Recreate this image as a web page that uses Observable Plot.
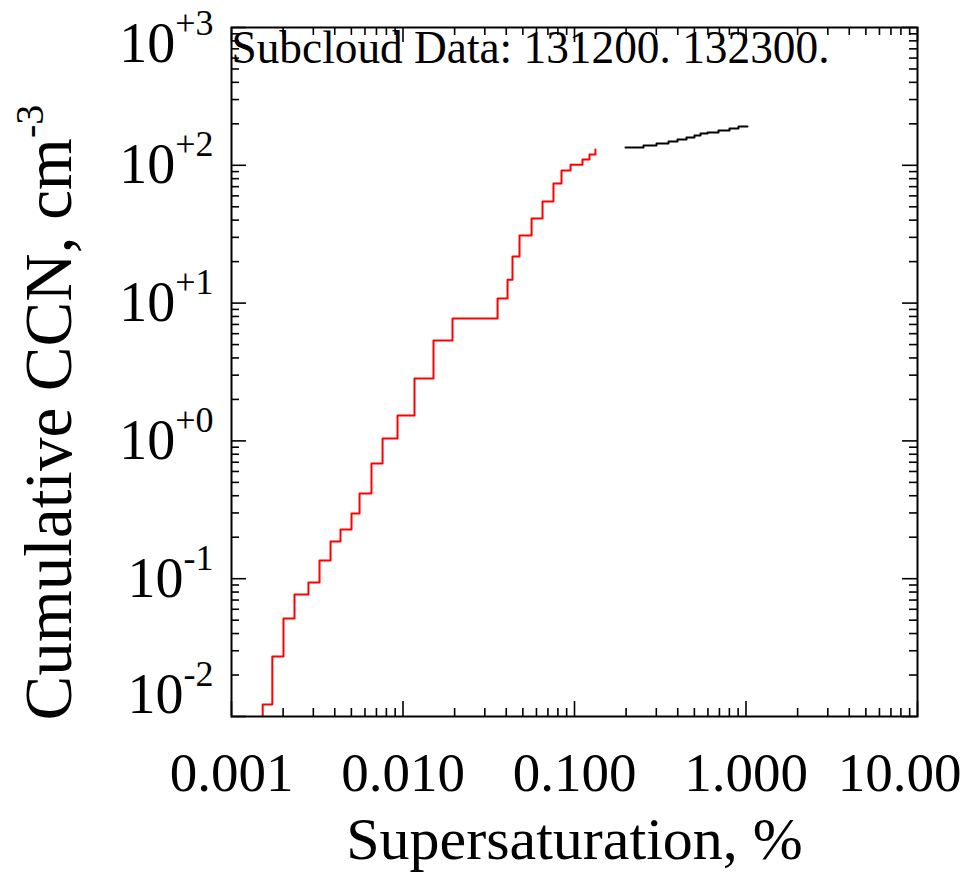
<!DOCTYPE html>
<html><head><meta charset="utf-8">
<script src="https://cdn.jsdelivr.net/npm/d3@7"></script>
<script src="https://cdn.jsdelivr.net/npm/@observablehq/plot@0.6"></script>
<style>html,body{margin:0;padding:0;background:#fff}svg{display:block}</style>
</head><body><div id="chart"></div>
<script>
// Red step series (supersaturation %, cumulative CCN cm^-3); step-after
const redX = [0.00152, 0.00152, 0.00173, 0.00201, 0.00233, 0.00281, 0.00326, 0.00378, 0.00432, 0.00501, 0.00558, 0.00655, 0.00760, 0.00929, 0.01167, 0.01506, 0.01944, 0.0356, 0.0407, 0.0435, 0.0478, 0.0562, 0.0651, 0.0754, 0.0840, 0.0948, 0.1113, 0.1223, 0.1325];
const redY = [0.01, 0.0122, 0.0272, 0.0514, 0.0768, 0.0938, 0.1355, 0.186, 0.2275, 0.297, 0.415, 0.685, 1.04, 1.53, 2.84, 5.35, 7.73, 10.8, 14.8, 21.8, 30.9, 41.1, 54.6, 73.8, 91.7, 101, 110, 120, 130];
// Black step series
const blackX = [0.1983, 0.2526, 0.3007, 0.3533, 0.3987, 0.4498, 0.5008, 0.543, 0.5965, 0.6913, 0.8013, 0.9044, 1.02];
const blackY = [134.6, 139.2, 143.9, 148.8, 153.9, 159.1, 164.5, 170.1, 173, 178.9, 184.9, 191.2, 191.2];

const xMajorTicks = [0.001, 0.01, 0.1, 1, 10];
const xTickLabels = ["0.001", "0.010", "0.100", "1.000", "10.00"];
const yMajorTicks = [0.01, 0.1, 1, 10, 100, 1000];
const yTickExponents = ["-2", "-1", "+0", "+1", "+2", "+3"];
const minorMultipliers = [2, 3, 4, 5, 6, 7, 8, 9];
const xMinorTicks = xMajorTicks.slice(0, -1).flatMap(d => minorMultipliers.map(m => d * m));
const yMinorTicks = yMajorTicks.slice(0, -1).flatMap(d => minorMultipliers.map(m => d * m));

const titleText = "Subcloud Data: 131200. 132300.";
const xTitle = "Supersaturation, %";
const yTitle = "Cumulative CCN, cm";
const yTitleExp = "-3";

const red = redX.map((x, i) => ({x, y: redY[i]}));
const black = blackX.map((x, i) => ({x, y: blackY[i]}));

const W = 975, H = 872, mL = 231, mR = 58, mT = 27, mB = 156;
const innerW = W - mL - mR, innerH = H - mT - mB;
const majLen = 15, minLen = 8;
const font = "'Liberation Serif', 'Times New Roman', Times, serif";

const svg = Plot.plot({
  width: W, height: H,
  marginLeft: mL, marginRight: mR, marginTop: mT, marginBottom: mB,
  style: {fontFamily: font, background: "white", color: "black", overflow: "visible"},
  x: {type: "log", domain: [0.001, 10]},
  y: {type: "log", domain: [0.01, 1000]},
  marks: [
    Plot.line(red, {x: "x", y: "y", curve: "step-after", stroke: "#ff0000", strokeWidth: 2}),
    Plot.line(black, {x: "x", y: "y", curve: "step-after", stroke: "black", strokeWidth: 2}),
    // inward ticks on all four sides
    Plot.tickX(xMajorTicks, {x: d => d, insetTop: innerH - majLen, strokeWidth: 1.6}),
    Plot.tickX(xMajorTicks, {x: d => d, insetBottom: innerH - majLen, strokeWidth: 1.6}),
    Plot.tickX(xMinorTicks, {x: d => d, insetTop: innerH - minLen, strokeWidth: 1.6}),
    Plot.tickX(xMinorTicks, {x: d => d, insetBottom: innerH - minLen, strokeWidth: 1.6}),
    Plot.tickY(yMajorTicks, {y: d => d, insetRight: innerW - majLen, strokeWidth: 1.6}),
    Plot.tickY(yMajorTicks, {y: d => d, insetLeft: innerW - majLen, strokeWidth: 1.6}),
    Plot.tickY(yMinorTicks, {y: d => d, insetRight: innerW - minLen, strokeWidth: 1.6}),
    Plot.tickY(yMinorTicks, {y: d => d, insetLeft: innerW - minLen, strokeWidth: 1.6}),
    Plot.frame({stroke: "black", strokeWidth: 2}),
    Plot.axisX({ticks: xMajorTicks, tickSize: 0, tickPadding: 35, fontSize: 55, label: null,
      tickFormat: d => xTickLabels[xMajorTicks.indexOf(d)]}),
    Plot.axisY({ticks: yMajorTicks, tickSize: 0, tickPadding: 18, fontSize: 56, label: null,
      tickFormat: d => yTickExponents[yMajorTicks.indexOf(d)]}),
    Plot.text([xTitle], {frameAnchor: "bottom", lineAnchor: "bottom", dy: 142, fontSize: 60, fill: "black"}),
    Plot.text([yTitle], {frameAnchor: "bottom-left", rotate: -90, textAnchor: "start", lineAnchor: "bottom", dx: -161, dy: 4, fontSize: 67, fill: "black"}),
    Plot.text([titleText], {frameAnchor: "top-left", textAnchor: "start", lineAnchor: "top", dy: 2, fontSize: 47, fill: "black"})
  ]
});

const NS = "http://www.w3.org/2000/svg";
function tspan(txt, attrs) {
  const t = document.createElementNS(NS, "tspan");
  for (const k in attrs) t.setAttribute(k, attrs[k]);
  t.textContent = txt;
  return t;
}
// y tick labels: 10 with superscript exponent
const yTexts = svg.querySelectorAll('[aria-label="y-axis tick label"] text');
yTexts.forEach(t => {
  const exp = t.textContent;
  let shift = 0;
  if (exp === "+3") shift = 17;
  if (exp === "-2") shift = -21;
  while (t.firstChild) t.removeChild(t.firstChild);
  t.appendChild(tspan("10", {dy: shift}));
  t.appendChild(tspan(exp, {"font-size": 36, dy: -27}));
});
// last x label shifted left as in the reference
svg.querySelectorAll('[aria-label="x-axis tick label"] text')
  .forEach(t => { if (t.textContent === "10.00") t.setAttribute("dx", -18); });
// free texts: identify by content
svg.querySelectorAll('g[aria-label="text"] text').forEach(t => {
  const s = t.textContent;
  if (s === yTitle) {
    t.appendChild(tspan(yTitleExp, {"font-size": 40, dy: -28}));
  } else if (s === titleText) {
    t.setAttribute("textLength", 598);
    t.setAttribute("lengthAdjust", "spacingAndGlyphs");
  }
});

document.getElementById("chart").appendChild(svg);
</script>
</body></html>
